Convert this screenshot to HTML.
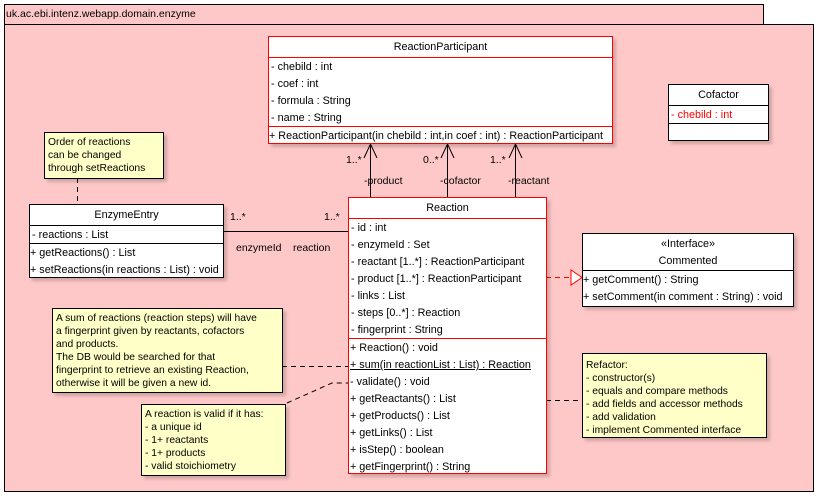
<!DOCTYPE html>
<html><head><meta charset="utf-8"><style>
body{margin:0;width:818px;height:496px;background:#fff;position:relative;overflow:hidden;font-family:"Liberation Sans",sans-serif;font-size:10px;color:#000}
.a{position:absolute;box-sizing:border-box}
.box{background:#fff;border:1px solid #000;box-shadow:3px 3px 3px rgba(0,0,0,.18);font-size:10.8px}
.red{border-color:#f00}
.hd{text-align:center;line-height:20px}
.sec{border-top:1px solid #000;padding-left:2px}
.red .sec{border-top-color:#f00}
.r{height:17px;line-height:18px;white-space:nowrap}
.note{background:#ffffc8;border:1px solid #000;box-shadow:3px 3px 3px rgba(0,0,0,.18);padding:3px 3px;line-height:13px;white-space:nowrap;font-size:10.3px}
.lbl{position:absolute;white-space:nowrap;line-height:12px;font-size:10.5px}
</style></head><body>
<div class="a" style="left:4px;top:4px;width:760px;height:21px;background:#fec8c8;border:1px solid #000;padding-left:1px;line-height:19px;font-size:10.5px">uk.ac.ebi.intenz.webapp.domain.enzyme</div>
<div class="a" style="left:4px;top:24px;width:810px;height:468px;background:#fec8c8;border:1px solid #000"></div>

<svg class="a" style="left:0;top:0" width="818" height="496">
<g stroke="#000" fill="none" stroke-width="1">
<line x1="370.5" y1="144" x2="370.5" y2="197"/><polyline points="364,158 370.5,144 377,158"/>
<line x1="447.5" y1="144" x2="447.5" y2="197"/><polyline points="441,158 447.5,144 454,158"/>
<line x1="515.5" y1="144" x2="515.5" y2="197"/><polyline points="509,158 515.5,144 522,158"/>
<line x1="223" y1="231.5" x2="348" y2="231.5"/>
<line x1="77.5" y1="178" x2="77.5" y2="204" stroke-dasharray="5,4"/>
<line x1="282" y1="366.5" x2="348" y2="366.5" stroke-dasharray="5,4"/>
<polyline points="287,403 332,383 348,383" stroke-dasharray="5,4"/>
<line x1="546" y1="400.5" x2="582" y2="400.5" stroke-dasharray="5,4"/>
</g>
<line x1="546" y1="277.5" x2="571" y2="277.5" stroke="#f00" stroke-dasharray="5,4"/>
<polygon points="571,270 582,277.5 571,285" fill="#fff" stroke="#f00"/>
</svg>

<div class="lbl" style="left:346px;top:154px">1..*</div>
<div class="lbl" style="left:423px;top:154px">0..*</div>
<div class="lbl" style="left:490px;top:154px">1..*</div>
<div class="lbl" style="left:364px;top:175px">-product</div>
<div class="lbl" style="left:440px;top:175px">-cofactor</div>
<div class="lbl" style="left:508px;top:175px">-reactant</div>
<div class="lbl" style="left:230px;top:211px">1..*</div>
<div class="lbl" style="left:324px;top:211px">1..*</div>
<div class="lbl" style="left:236px;top:242px">enzymeId</div>
<div class="lbl" style="left:293px;top:242px">reaction</div>

<div class="a box red" style="left:268px;top:36px;width:345px;height:108px">
<div class="hd">ReactionParticipant</div>
<div class="sec"><div class="r">- chebild : int</div><div class="r">- coef : int</div><div class="r">- formula : String</div><div class="r">- name : String</div></div>
<div class="sec" style="padding-left:0"><div class="r">+ ReactionParticipant(in chebild : int,in coef : int) : ReactionParticipant</div></div>
</div>

<div class="a box" style="left:668px;top:84px;width:101px;height:57px">
<div class="hd">Cofactor</div>
<div class="sec" style="color:#f00"><div class="r">- chebild : int</div></div>
<div class="sec"></div>
</div>

<div class="a note" style="left:44px;top:132px;width:120px;height:47px">Order of reactions<br>can be changed<br>through setReactions</div>

<div class="a box" style="left:29px;top:204px;width:195px;height:74px">
<div class="hd">EnzymeEntry</div>
<div class="sec"><div class="r">- reactions : List</div></div>
<div class="sec" style="padding-left:0"><div class="r">+ getReactions() : List</div><div class="r">+ setReactions(in reactions : List) : void</div></div>
</div>

<div class="a box red" style="left:348px;top:197px;width:199px;height:277px">
<div class="hd">Reaction</div>
<div class="sec"><div class="r">- id : int</div><div class="r">- enzymeId : Set</div><div class="r">- reactant [1..*] : ReactionParticipant</div><div class="r">- product [1..*] : ReactionParticipant</div><div class="r">- links : List</div><div class="r">- steps [0..*] : Reaction</div><div class="r">- fingerprint : String</div></div>
<div class="sec" style="padding-left:1px"><div class="r">+ Reaction() : void</div><div class="r" style="text-decoration:underline">+ sum(in reactionList : List) : Reaction</div><div class="r">- validate() : void</div><div class="r">+ getReactants() : List</div><div class="r">+ getProducts() : List</div><div class="r">+ getLinks() : List</div><div class="r">+ isStep() : boolean</div><div class="r">+ getFingerprint() : String</div></div>
</div>

<div class="a box" style="left:582px;top:233px;width:212px;height:74px">
<div class="hd" style="line-height:17px;padding-top:2px">«Interface»<br>Commented</div>
<div class="sec" style="padding-left:0"><div class="r">+ getComment() : String</div><div class="r">+ setComment(in comment : String) : void</div></div>
</div>

<div class="a note" style="left:52px;top:308px;width:231px;height:85px">A sum of reactions (reaction steps) will have<br>a fingerprint given by reactants, cofactors<br>and products.<br>The DB would be searched for that<br>fingerprint to retrieve an existing Reaction,<br>otherwise it will be given a new id.</div>

<div class="a note" style="left:141px;top:404px;width:145px;height:72px">A reaction is valid if it has:<br>- a unique id<br>- 1+ reactants<br>- 1+ products<br>- valid stoichiometry</div>

<div class="a note" style="left:582px;top:353px;width:185px;height:85px;padding-top:5px">Refactor:<br>- constructor(s)<br>- equals and compare methods<br>- add fields and accessor methods<br>- add validation<br>- implement Commented interface</div>
</body></html>
